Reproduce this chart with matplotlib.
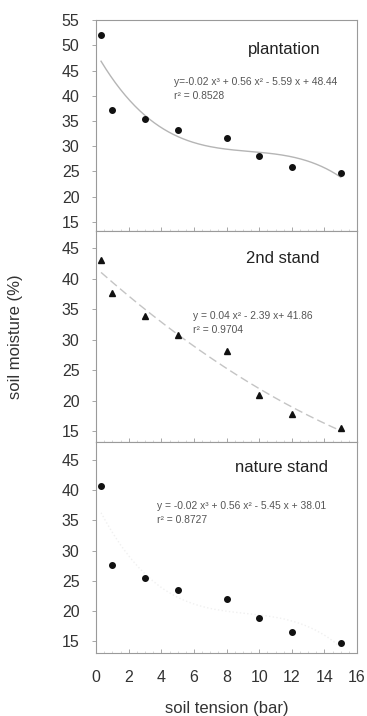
import numpy as np
import matplotlib
matplotlib.use("Agg")
import matplotlib.pyplot as plt

plt.rcParams['font.family'] = ['Liberation Sans', 'DejaVu Sans']

# soil tension (bar)
tension = [0.3, 1, 3, 5, 8, 10, 12, 15]

# soil moisture (%) per stand
plantation = [52.0, 37.1, 35.4, 33.3, 31.7, 28.1, 25.9, 24.7]
second_stand = [43.0, 37.6, 33.8, 30.7, 28.1, 20.9, 17.8, 15.5]
nature_stand = [40.7, 27.6, 25.5, 23.4, 21.9, 18.8, 16.5, 14.7]

names = ["plantation", "2nd stand", "nature stand"]
equations = ["y=-0.02 x³ + 0.56 x² - 5.59 x + 48.44\nr² = 0.8528",
             "y = 0.04 x² - 2.39 x+ 41.86\nr² = 0.9704",
             "y = -0.02 x³ + 0.56 x² - 5.45 x + 38.01\nr² = 0.8727"]
fit_degree = [3, 2, 3]
y_limits = [(13.2, 55), (13.2, 47.8), (13.0, 48.0)]
y_ticks = [range(15, 56, 5), range(15, 46, 5), range(15, 46, 5)]

fig = plt.figure(figsize=(3.67, 7.16), dpi=100)
gs = fig.add_gridspec(3, 1, left=0.262, right=0.973, top=0.972, bottom=0.088, hspace=0)
axes = [fig.add_subplot(gs[i]) for i in range(3)]

series = [plantation, second_stand, nature_stand]
markers = ["o", "^", "o"]
line_styles = ["-", (0, (6, 3)), ":"]
line_colors = ["#b5b5b5", "#c4c4c4", "#f0f0f0"]
eq_pos = [(0.3, 0.73), (0.37, 0.62), (0.235, 0.72)]
name_pos = [(0.72, 0.86), (0.717, 0.87), (0.712, 0.88)]

for i, ax in enumerate(axes):
    x = np.array(tension)
    y = np.array(series[i])
    # trend line from the data, as in the original
    coef = np.polyfit(x, y, fit_degree[i])
    xs = np.linspace(0.3, 15, 200)
    ax.plot(xs, np.polyval(coef, xs), color=line_colors[i], lw=1.0, ls=line_styles[i])
    ax.plot(x, y, ls="none", marker=markers[i], color="#111111",
            markersize=4 if markers[i] == "o" else 4.5)

    ax.set_xlim(0, 16)
    ax.set_ylim(*y_limits[i])
    ax.set_yticks(list(y_ticks[i]))
    ax.set_xticks(range(0, 17, 2))
    ax.set_xticks(np.arange(0, 16.1, 0.5), minor=True)
    ax.tick_params(axis="y", direction="out", length=3, width=0.6, color="#999999",
                   labelsize=11.5, labelcolor="#333333", pad=9)
    ax.tick_params(axis="x", which="major", direction="in", length=3, width=0.6,
                   color="#999999", labelsize=11.5, labelcolor="#333333", pad=12)
    ax.tick_params(axis="x", which="minor", direction="in", length=1.5, width=0.4,
                   color="#bbbbbb")
    if i < 2:
        ax.tick_params(axis="x", labelbottom=False)
    for s in ax.spines.values():
        s.set_color("#9a9a9a")
        s.set_linewidth(0.8)

    ax.text(name_pos[i][0], name_pos[i][1], names[i], transform=ax.transAxes,
            ha="center", va="center", fontsize=12, color="#222222")
    ax.text(eq_pos[i][0], eq_pos[i][1], equations[i], transform=ax.transAxes,
            ha="left", va="top", fontsize=7.4, color="#555555", linespacing=1.5)

axes[1].set_ylabel("soil moisture (%)", fontsize=12, color="#333333", labelpad=28)
axes[2].set_xlabel("soil tension (bar)", fontsize=12, color="#333333", labelpad=12)

fig.savefig("out.png", dpi=100)
